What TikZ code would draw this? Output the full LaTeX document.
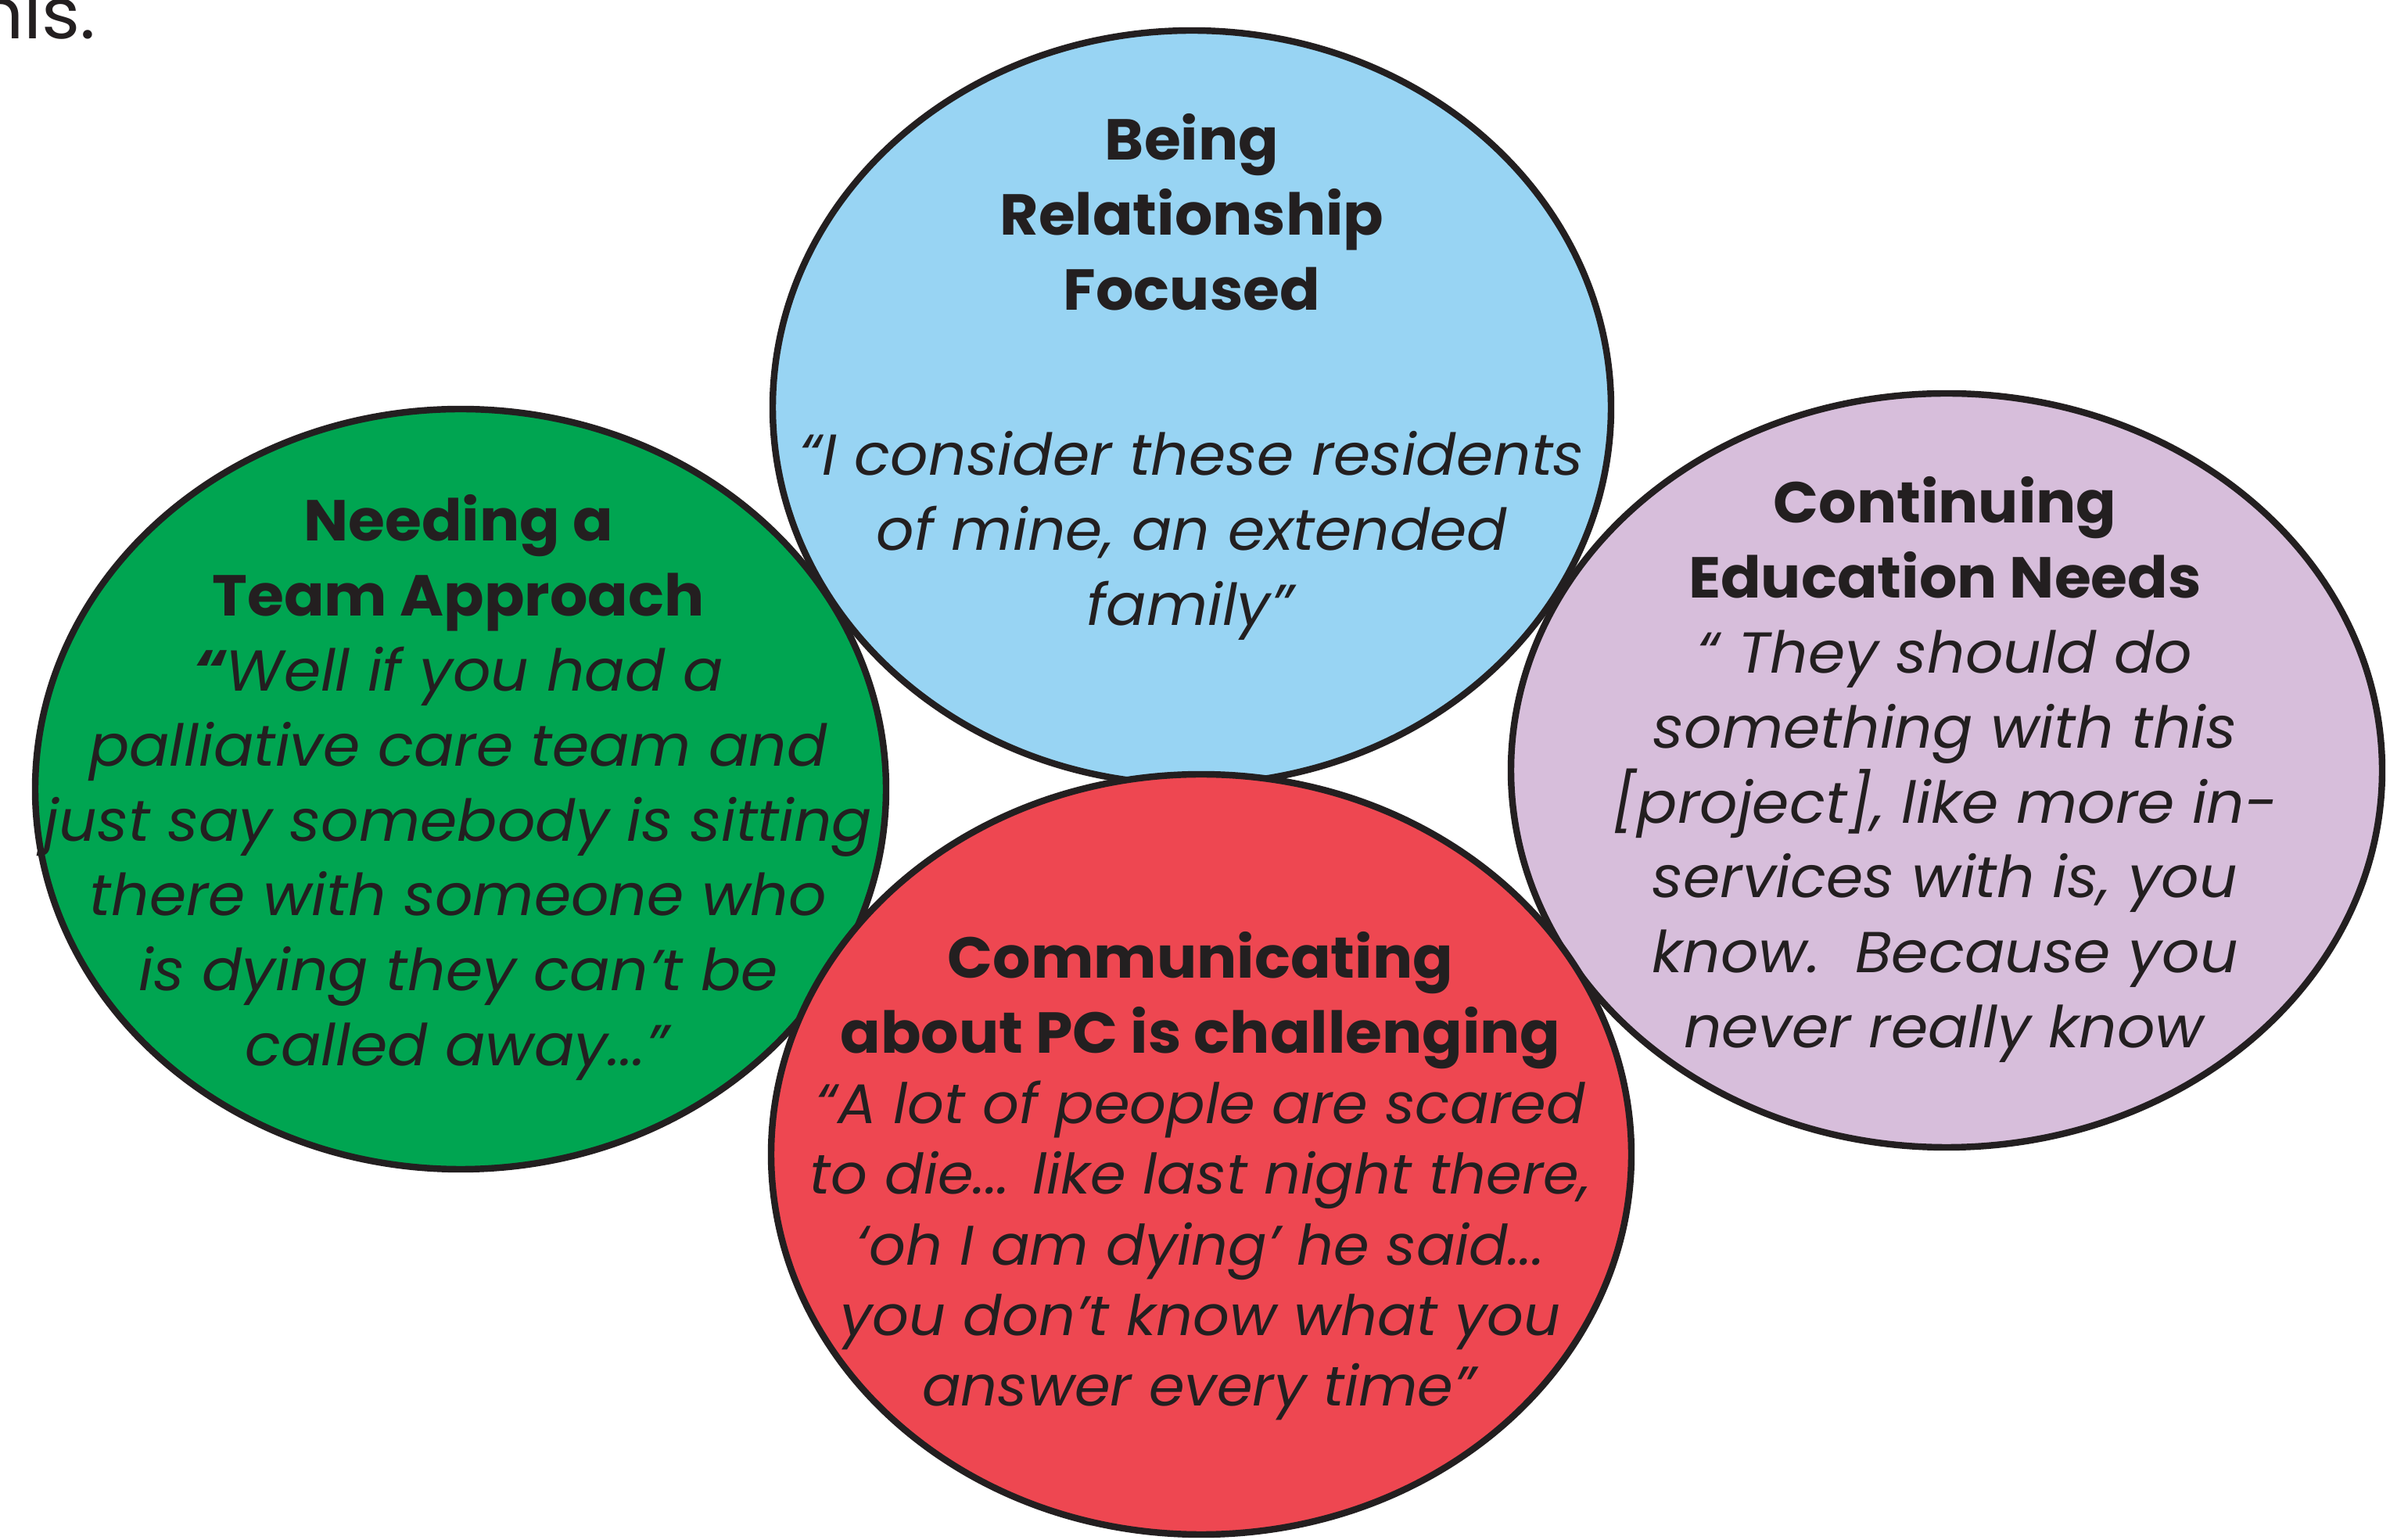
\documentclass[tikz,border=0pt]{standalone}
\usepackage{fontspec}
\setmainfont{Poppins}[FakeStretch=1.03]
\usetikzlibrary{shapes.geometric}

\definecolor{inkline}{HTML}{231F20}
\definecolor{bluefill}{HTML}{98D4F3}
\definecolor{greenfill}{HTML}{00A551}
\definecolor{lilacfill}{HTML}{D7BEDB}
\definecolor{redfill}{HTML}{EE4751}

\tikzset{
  bubble/.style={ellipse, draw=inkline, line width=2.4pt, inner sep=0pt},
  quotetext/.style={align=center, text=inkline, inner sep=0pt, font=\fontsize{21}{27.3}\selectfont},
}

\begin{document}
\begin{tikzpicture}
\useasboundingbox (0,0) rectangle (30.56,19.68);

% end of the sentence above the figure
\begin{scope}
\clip (0,0) rectangle (30.56,19.68);
\node[anchor=base east, text=inkline, inner sep=0pt, font=\fontsize{26}{30}\selectfont] (tail) at (1.23,19.18) {this.};
\end{scope}

% the four themes
\node[bubble, fill=bluefill, minimum width=10.72cm, minimum height=9.64cm] (relation) at (15.24,14.47) {};
\node[bubble, fill=greenfill, minimum width=10.88cm, minimum height=9.72cm] (team) at (5.89,9.59) {};
\node[bubble, fill=lilacfill, minimum width=11.14cm, minimum height=9.64cm] (education) at (24.89,9.83) {};
\node[bubble, fill=redfill, minimum width=11.00cm, minimum height=9.72cm] (talking) at (15.36,4.92) {};

% texts
\node[quotetext] (relationtext) at (15.24,14.86) {\textbf{Being}\\ \textbf{Relationship}\\ \textbf{Focused}\\[33pt]
  \textit{“I consider these residents}\\ \textit{of mine, an extended}\\ \textit{family”}};

\node[quotetext] (teamtext) at (5.86,9.61) {\textbf{Needing a}\\ \textbf{Team Approach}\\
  \textit{\textbf{“}Well if you had a}\\ \textit{palliative care team and}\\ \textit{just say somebody is sitting}\\
  \textit{there with someone who}\\ \textit{is dying they can’t be}\\ \textit{called away...”}};

\node[quotetext] (educationtext) at (24.87,9.84) {\textbf{Continuing}\\ \textbf{Education Needs}\\
  \textit{“ They should do}\\ \textit{something with this}\\ \textit{[project], like more in-}\\
  \textit{services with is, you}\\ \textit{know.~~Because you}\\ \textit{never really know}};

\node[quotetext, font=\fontsize{20.3}{25.7}\selectfont] (talkingtext) at (15.35,4.64) {{\fontsize{21}{25.7}\selectfont\bfseries Communicating}\\[1.5pt]
  {\fontsize{21}{25.7}\selectfont\bfseries about PC is challenging}\\
  \textit{“A lot of people are scared}\\ \textit{to die... like last night there,}\\ \textit{‘oh I am dying’ he said...}\\
  \textit{you don’t know what you}\\ \textit{answer every time”}};
\end{tikzpicture}
\end{document}
